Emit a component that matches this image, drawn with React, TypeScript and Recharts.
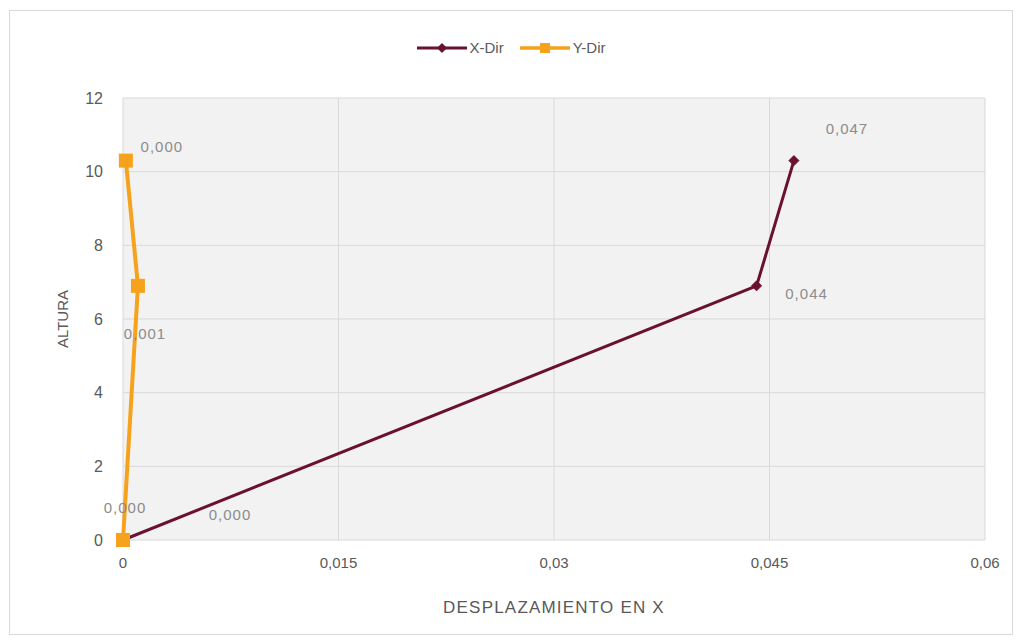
import React from "react";
import {
  ScatterChart,
  Scatter,
  XAxis,
  YAxis,
  CartesianGrid,
  Legend,
  LabelList,
  Label,
} from "recharts";

// ---- data ----
const SERIES_NAMES = ["X-Dir", "Y-Dir"];
const HEIGHTS = [0, 6.9, 10.3];
const X_DIR = [0, 0.0441, 0.0467];
const Y_DIR = [0, 0.00104, 0.0002];
const X_TICKS = [0, 0.015, 0.03, 0.045, 0.06];
const Y_TICKS = [0, 2, 4, 6, 8, 10, 12];
const X_TITLE = "DESPLAZAMIENTO EN X";
const Y_TITLE = "ALTURA";

const xDirData = HEIGHTS.map((h, i) => ({ x: X_DIR[i], y: h }));
const yDirData = HEIGHTS.map((h, i) => ({ x: Y_DIR[i], y: h }));

// ---- style ----
const FONT = "'Liberation Sans', Arial, sans-serif";
const MAROON = "#6b1130";
const ORANGE = "#f6a21d";
const AXIS_TEXT = "#595959";
const LABEL_TEXT = "#8c8c8c";

// label placement offsets (relative to the point), style only
const X_LABEL_OFFSETS = [
  [107, -26],
  [50, 8],
  [53, -32],
];
const Y_LABEL_OFFSETS = [
  [2, -33],
  [7, 48],
  [36, -14],
];

const fmtComma = (v: number) => String(v).replace(".", ",");
const fmt3 = (v: number) => v.toFixed(3).replace(".", ",");

const Diamond = (props: any) => {
  const { cx, cy } = props;
  const r = 5;
  return (
    <path
      d={`M${cx},${cy - r}L${cx + r},${cy}L${cx},${cy + r}L${cx - r},${cy}Z`}
      fill={MAROON}
      stroke={MAROON}
    />
  );
};

const Square = (props: any) => {
  const { cx, cy } = props;
  const s = 14;
  return <rect x={cx - s / 2} y={cy - s / 2} width={s} height={s} fill={ORANGE} />;
};

const makeLabel = (offsets: number[][]) => (props: any) => {
  const { x, y, width, height, value, index } = props;
  const cx = x + (width || 0) / 2;
  const cy = y + (height || 0) / 2;
  const off = offsets[index] || [0, 0];
  return (
    <text
      x={cx + off[0]}
      y={cy + off[1]}
      textAnchor="middle"
      dominantBaseline="central"
      fontFamily={FONT}
      fontSize={15}
      letterSpacing={1}
      fill={LABEL_TEXT}
    >
      {fmt3(value)}
    </text>
  );
};

const LegendContent = () => (
  <div
    style={{
      display: "flex",
      justifyContent: "center",
      alignItems: "center",
      fontFamily: FONT,
      fontSize: 15,
      color: AXIS_TEXT,
    }}
  >
    <svg width={50} height={14} style={{ marginRight: 3 }}>
      <line x1={0} y1={7} x2={50} y2={7} stroke={MAROON} strokeWidth={3} />
      <path d="M25,2L30,7L25,12L20,7Z" fill={MAROON} />
    </svg>
    <span style={{ marginRight: 16 }}>{SERIES_NAMES[0]}</span>
    <svg width={50} height={14} style={{ marginRight: 3 }}>
      <line x1={0} y1={7} x2={50} y2={7} stroke={ORANGE} strokeWidth={3.5} />
      <rect x={20} y={2} width={10} height={10} fill={ORANGE} />
    </svg>
    <span>{SERIES_NAMES[1]}</span>
  </div>
);

export default function App() {
  return (
    <div
      style={{
        marginLeft: 1,
        marginTop: 2,
        width: 1004,
        height: 625,
        boxSizing: "border-box",
        border: "1px solid #d9d9d9",
        background: "#fff",
      }}
    >
      <ScatterChart
        width={1002}
        height={623}
        margin={{ top: 87, right: 27, bottom: 14, left: 53 }}
        style={{ fontFamily: FONT }}
      >
        <CartesianGrid stroke="#d9d9d9" fill="#f2f2f2" />
        <XAxis
          type="number"
          dataKey="x"
          domain={[0, 0.06]}
          ticks={X_TICKS}
          tickFormatter={fmtComma}
          axisLine={false}
          tickLine={false}
          tickMargin={11}
          height={80}
          tick={{ fill: AXIS_TEXT, fontSize: 15, fontFamily: FONT }}
        >
          <Label
            value={X_TITLE}
            position="insideBottom"
            offset={7}
            fill={AXIS_TEXT}
            fontSize={17}
            letterSpacing={1.2}
            fontFamily={FONT}
          />
        </XAxis>
        <YAxis
          type="number"
          dataKey="y"
          domain={[0, 12]}
          ticks={Y_TICKS}
          axisLine={false}
          tickLine={false}
          tickMargin={14}
          width={60}
          tick={{ fill: AXIS_TEXT, fontSize: 16, fontFamily: FONT }}
        >
          <Label
            content={(p: any) => {
              const vb = p.viewBox || {};
              const cy = (vb.y || 0) + (vb.height || 0) / 2;
              return (
                <text
                  x={52}
                  y={cy}
                  transform={`rotate(-90, 52, ${cy})`}
                  textAnchor="middle"
                  dominantBaseline="central"
                  fill={AXIS_TEXT}
                  fontSize={15}
                  fontFamily={FONT}
                >
                  {Y_TITLE}
                </text>
              );
            }}
          />
        </YAxis>
        <Legend
          verticalAlign="middle"
          align="center"
          content={<LegendContent />}
          wrapperStyle={{ top: 28, left: 0, width: 1002 }}
        />
        <Scatter
          name={SERIES_NAMES[0]}
          data={xDirData}
          line={{ stroke: MAROON, strokeWidth: 3 }}
          lineType="joint"
          shape={<Diamond />}
          fill={MAROON}
          isAnimationActive={false}
        >
          <LabelList dataKey="x" content={makeLabel(X_LABEL_OFFSETS)} />
        </Scatter>
        <Scatter
          name={SERIES_NAMES[1]}
          data={yDirData}
          line={{ stroke: ORANGE, strokeWidth: 4 }}
          lineType="joint"
          shape={<Square />}
          fill={ORANGE}
          isAnimationActive={false}
        >
          <LabelList dataKey="x" content={makeLabel(Y_LABEL_OFFSETS)} />
        </Scatter>
      </ScatterChart>
    </div>
  );
}
